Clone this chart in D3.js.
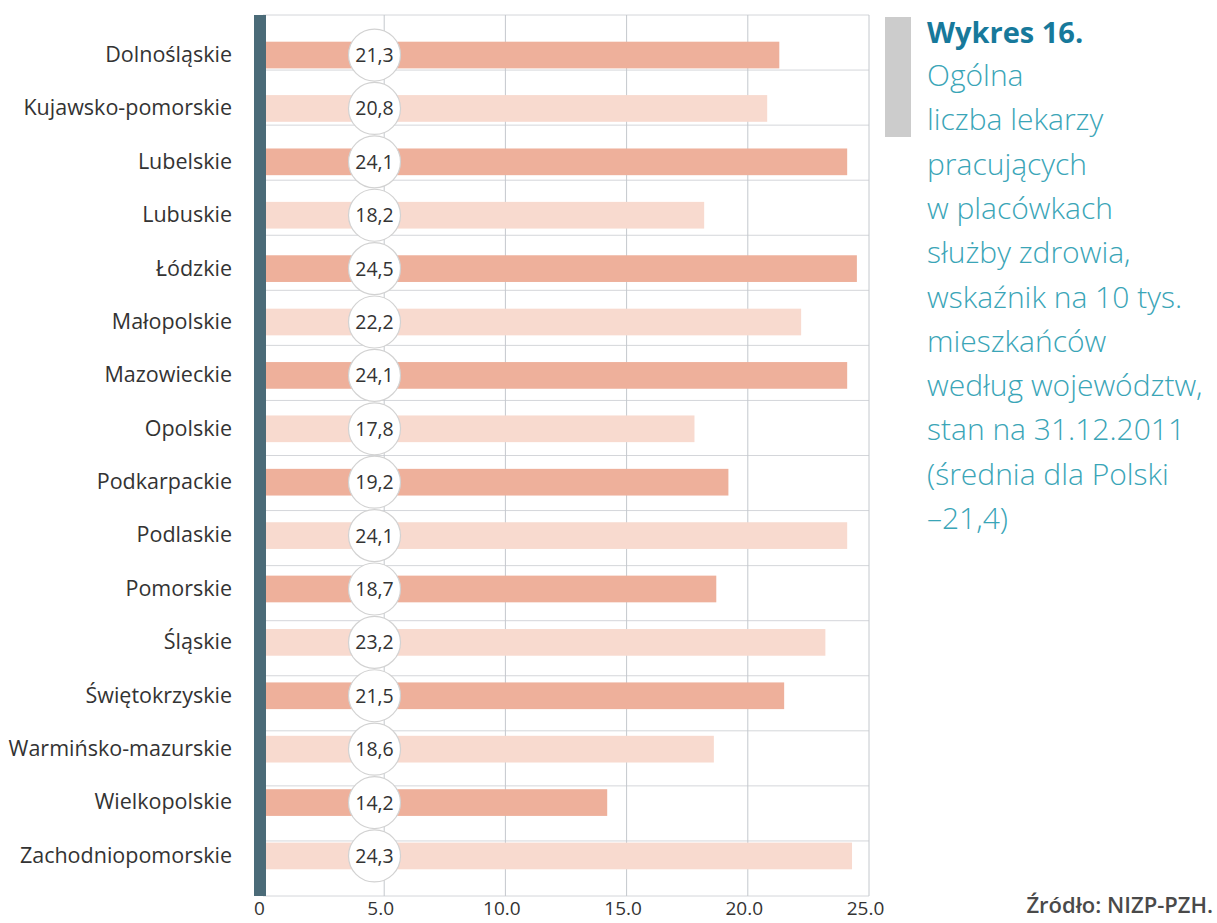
<!DOCTYPE html>
<html>
<head>
<meta charset="utf-8">
<script src="https://cdn.jsdelivr.net/npm/d3@7"></script>
<style>
  body { margin: 0; background: #fff; }
  svg { display: block; font-family: "Open Sans", sans-serif; }
</style>
</head>
<body>
<div id="draw"></div>
<script>
let regions = ['Dolnośląskie', 'Kujawsko-pomorskie', 'Lubelskie', 'Lubuskie', 'Łódzkie', 'Małopolskie',
    'Mazowieckie', 'Opolskie', 'Podkarpackie', 'Podlaskie', 'Pomorskie', 'Śląskie', 'Świętokrzyskie',
    'Warmińsko-mazurskie', 'Wielkopolskie', 'Zachodniopomorskie'];
let values = [21.3, 20.8, 24.1, 18.2, 24.5, 22.2, 24.1, 17.8, 19.2, 24.1, 18.7, 23.2, 21.5, 18.6, 14.2, 24.3];
let xTicks = [0, 5, 10, 15, 20, 25];
let titleLines = ['Ogólna', 'liczba lekarzy', 'pracujących', 'w placówkach', 'służby zdrowia,',
    'wskaźnik na 10 tys.', 'mieszkańców', 'według województw,', 'stan na 31.12.2011', '(średnia dla Polski', '–21,4)'];

let data = regions.map((r, i) => ({ region: r, value: values[i], i: i }));

let width = 1217,
    height = 923,
    margin = { top: 15, left: 263, bottom: 27, right: 348 };

let svg = d3.select('#draw')
    .append('svg')
    .attr('width', width)
    .attr('height', height);

let innerW = width - margin.left - margin.right,
    innerH = height - margin.top - margin.bottom;

let g = svg.append('g')
    .attr('transform', 'translate(' + margin.left + ',' + margin.top + ')');

let xScale = d3.scaleLinear().domain([0, 25]).range([0, innerW]);
let yScale = d3.scaleBand().domain(regions).range([0, innerH]).padding(0.5);
let rowScale = d3.scaleBand().domain(regions).range([0, innerH]);

// grid: row separators + vertical lines
g.append('g').selectAll('line')
    .data(regions.concat(['__end']))
    .enter().append('line')
    .attr('x1', 0).attr('x2', innerW)
    .attr('y1', d => d === '__end' ? innerH : rowScale(d))
    .attr('y2', d => d === '__end' ? innerH : rowScale(d))
    .attr('stroke', '#d4d6da').attr('stroke-width', 1);

g.append('g').selectAll('line')
    .data(xTicks.slice(1))
    .enter().append('line')
    .attr('x1', d => xScale(d)).attr('x2', d => xScale(d))
    .attr('y1', 0).attr('y2', innerH)
    .attr('stroke', '#c4c8cd').attr('stroke-width', 1);

// bars
let barStart = 3;
g.append('g').selectAll('rect')
    .data(data)
    .enter().append('rect')
    .attr('x', barStart)
    .attr('y', d => yScale(d.region))
    .attr('width', d => xScale(d.value) - barStart)
    .attr('height', yScale.bandwidth())
    .attr('fill', d => d.i % 2 === 0 ? '#eeb09b' : '#f8dacf');

// left dark axis bar
g.append('rect')
    .attr('x', xScale(0) - 9)
    .attr('y', 0)
    .attr('width', 12)
    .attr('height', innerH)
    .attr('fill', '#4b6b78');

// value bubbles
let bubbleX = 4.6;
let bubbles = g.append('g').selectAll('g')
    .data(data)
    .enter().append('g')
    .attr('transform', d => 'translate(' + xScale(bubbleX) + ',' + (yScale(d.region) + yScale.bandwidth() / 2) + ')');

bubbles.append('circle')
    .attr('r', 26)
    .attr('fill', '#fff')
    .attr('stroke', '#d2d2d2')
    .attr('stroke-width', 1.2);

bubbles.append('text')
    .attr('text-anchor', 'middle')
    .attr('dy', '0.36em')
    .attr('font-size', 19.5)
    .attr('fill', '#333')
    .text(d => d.value.toFixed(1).replace('.', ','));

// category labels
let yAxis = g.append('g')
    .attr('transform', 'translate(-31,0)')
    .call(d3.axisLeft(yScale).tickSize(0).tickPadding(0));
yAxis.select('.domain').remove();
yAxis.selectAll('text')
    .attr('font-family', '"Open Sans", sans-serif')
    .attr('font-size', 21.5)
    .attr('fill', '#333');

// x axis labels
let xAxis = g.append('g')
    .attr('transform', 'translate(-4,' + innerH + ')')
    .call(d3.axisBottom(xScale).tickValues(xTicks).tickSize(0).tickPadding(5)
        .tickFormat(d => d === 0 ? '0' : d.toFixed(1)));
xAxis.select('.domain').remove();
xAxis.selectAll('text')
    .attr('font-family', '"Open Sans", sans-serif')
    .attr('font-size', 19)
    .attr('fill', '#333');

// title block
svg.append('rect')
    .attr('x', 885).attr('y', 17)
    .attr('width', 26).attr('height', 120)
    .attr('fill', '#cccccc');

let title = svg.append('g').attr('transform', 'translate(927,0)');
title.append('text')
    .attr('y', 43)
    .attr('font-size', 29)
    .attr('font-weight', 700)
    .attr('fill', '#17799b')
    .text('Wykres 16.');

title.selectAll('text.sub')
    .data(titleLines)
    .enter().append('text')
    .attr('class', 'sub')
    .attr('y', (d, i) => 86 + i * 44.3)
    .attr('font-size', 30)
    .attr('font-weight', 300)
    .attr('fill', '#3aa5b7')
    .text(d => d);

svg.append('text')
    .attr('x', 1213)
    .attr('y', 913)
    .attr('text-anchor', 'end')
    .attr('font-size', 22)
    .attr('font-weight', 600)
    .attr('fill', '#4a4a4a')
    .text('Źródło: NIZP-PZH.');
</script>
</body>
</html>
